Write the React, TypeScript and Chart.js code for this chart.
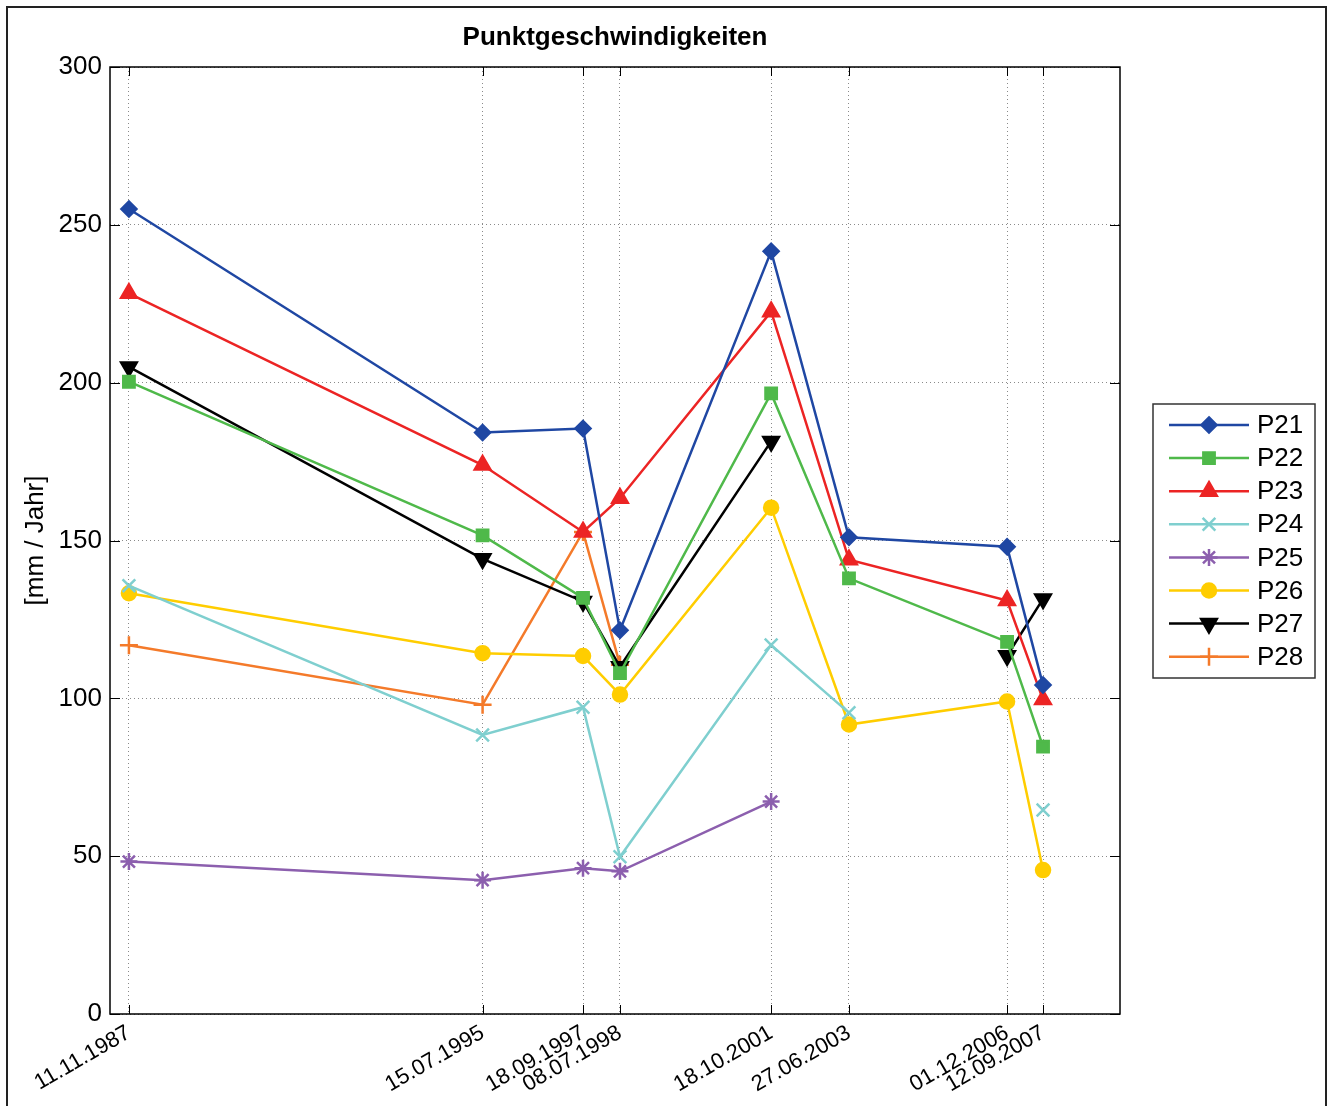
import React, { useEffect, useRef } from 'react';
import { Chart, registerables } from 'chart.js';

Chart.register(...registerables);

// ---- data ----
const dateLabels = ['11.11.1987', '15.07.1995', '18.09.1997', '08.07.1998', '18.10.2001', '27.06.2003', '01.12.2006', '12.09.2007'];
const seriesNames = ['P21', 'P22', 'P23', 'P24', 'P25', 'P26', 'P27', 'P28'];
const p21 = [255, 184.2, 185.5, 121.6, 241.6, 151, 148, 104.2];
const p22 = [200.3, 151.6, 131.8, 108, 196.6, 138, 117.9, 84.7];
const p23 = [228.3, 173.9, 152.7, 163.4, 222.5, 143.9, 131, 99.6];
const p24 = [135.7, 88.4, 97.2, 49.8, 116.9, 95.4, null, 64.6];
const p25 = [48.3, 42.4, 46.2, 45.2, 67.3, null, null, null];
const p26 = [133.3, 114.3, 113.4, 101.2, 160.4, 91.7, 99, 45.6];
const p27 = [205, 144.2, 130.7, 110, 181.4, null, 113.5, 131.5];
const p28 = [116.8, 98, 152.7, 110.6, null, null, null, null];
const yTicks = [0, 50, 100, 150, 200, 250, 300];

const seriesValues = [p21, p22, p23, p24, p25, p26, p27, p28];
const seriesColors = ['#1f47a3', '#4fb94a', '#ec2424', '#7fcfcf', '#8c5fae', '#ffcd00', '#000000', '#f47a2a'];
const seriesMarkers = ['rectRot', 'rect', 'triangle', 'crossRot', 'star', 'circle', 'triangle', 'cross'];
const seriesMarkerRot = [0, 0, 0, 0, 0, 0, 180, 0];
const seriesMarkerSize = [7.5, 8, 9, 9, 8.5, 7, 9, 9];

const toDay = (s: string) => {
  const [d, m, y] = s.split('.').map(Number);
  return Date.UTC(y, m - 1, d) / 86400000;
};
const xVals = dateLabels.map(toDay);

const FONT = "'Liberation Sans', Arial, Helvetica, sans-serif";

function drawMarker(ctx: CanvasRenderingContext2D, style: string, x: number, y: number, r: number, color: string, rot: number) {
  ctx.save();
  ctx.fillStyle = color;
  ctx.strokeStyle = color;
  ctx.lineWidth = 2.5;
  ctx.beginPath();
  if (style === 'rectRot') {
    ctx.moveTo(x, y - r); ctx.lineTo(x + r, y); ctx.lineTo(x, y + r); ctx.lineTo(x - r, y); ctx.closePath();
    ctx.fill(); ctx.stroke();
  } else if (style === 'rect') {
    const s = Math.SQRT1_2 * r;
    ctx.rect(x - s, y - s, 2 * s, 2 * s); ctx.fill(); ctx.stroke();
  } else if (style === 'triangle') {
    let rad = (rot * Math.PI) / 180;
    ctx.moveTo(x + Math.sin(rad) * r, y - Math.cos(rad) * r);
    rad += (2 * Math.PI) / 3;
    ctx.lineTo(x + Math.sin(rad) * r, y - Math.cos(rad) * r);
    rad += (2 * Math.PI) / 3;
    ctx.lineTo(x + Math.sin(rad) * r, y - Math.cos(rad) * r);
    ctx.closePath(); ctx.fill(); ctx.stroke();
  } else if (style === 'circle') {
    ctx.arc(x, y, r, 0, Math.PI * 2); ctx.fill(); ctx.stroke();
  } else if (style === 'cross') {
    ctx.moveTo(x - r, y); ctx.lineTo(x + r, y); ctx.moveTo(x, y - r); ctx.lineTo(x, y + r); ctx.stroke();
  } else if (style === 'crossRot') {
    const s = Math.SQRT1_2 * r;
    ctx.moveTo(x - s, y - s); ctx.lineTo(x + s, y + s); ctx.moveTo(x - s, y + s); ctx.lineTo(x + s, y - s); ctx.stroke();
  } else if (style === 'star') {
    const s = Math.SQRT1_2 * r;
    ctx.moveTo(x - r, y); ctx.lineTo(x + r, y); ctx.moveTo(x, y - r); ctx.lineTo(x, y + r);
    ctx.moveTo(x - s, y - s); ctx.lineTo(x + s, y + s); ctx.moveTo(x - s, y + s); ctx.lineTo(x + s, y - s); ctx.stroke();
  }
  ctx.restore();
}

const decorPlugin = {
  id: 'decor',
  afterDraw(chart: any) {
    const { ctx, chartArea: a, scales } = chart;
    ctx.save();
    // figure frame
    ctx.strokeStyle = '#222';
    ctx.lineWidth = 2;
    ctx.strokeRect(7, 7, 1319, 1120);
    // axes box
    ctx.strokeStyle = '#000';
    ctx.lineWidth = 1.5;
    ctx.strokeRect(a.left, a.top, a.right - a.left, a.bottom - a.top);
    // inward ticks
    ctx.lineWidth = 1;
    ctx.beginPath();
    xVals.forEach((v) => {
      const px = Math.round(scales.x.getPixelForValue(v)) + 0.5;
      ctx.moveTo(px, a.bottom); ctx.lineTo(px, a.bottom - 9);
      ctx.moveTo(px, a.top); ctx.lineTo(px, a.top + 9);
    });
    yTicks.forEach((v) => {
      const py = Math.round(scales.y.getPixelForValue(v)) + 0.5;
      ctx.moveTo(a.left, py); ctx.lineTo(a.left + 10, py);
      ctx.moveTo(a.right, py); ctx.lineTo(a.right - 10, py);
    });
    ctx.stroke();
    // title
    ctx.fillStyle = '#000';
    ctx.font = `bold 26px ${FONT}`;
    ctx.textAlign = 'center';
    ctx.textBaseline = 'middle';
    ctx.fillText('Punktgeschwindigkeiten', (a.left + a.right) / 2, 38);
    // y-axis title
    ctx.save();
    ctx.translate(36, (a.top + a.bottom) / 2);
    ctx.rotate(-Math.PI / 2);
    ctx.font = `26px ${FONT}`;
    ctx.fillText('[mm / Jahr]', 0, 0);
    ctx.restore();
    // legend
    const lx = 1153, ly = 404, lw = 162, lh = 274;
    ctx.fillStyle = '#fff';
    ctx.fillRect(lx, ly, lw, lh);
    ctx.strokeStyle = '#333';
    ctx.lineWidth = 1.5;
    ctx.strokeRect(lx, ly, lw, lh);
    seriesNames.forEach((name, i) => {
      const yy = 425 + i * 33.1;
      ctx.strokeStyle = seriesColors[i];
      ctx.lineWidth = 2.5;
      ctx.beginPath();
      ctx.moveTo(1169, yy); ctx.lineTo(1249, yy);
      ctx.stroke();
      drawMarker(ctx, seriesMarkers[i], 1209, yy, seriesMarkerSize[i], seriesColors[i], seriesMarkerRot[i]);
      ctx.fillStyle = '#000';
      ctx.font = `26px ${FONT}`;
      ctx.textAlign = 'left';
      ctx.textBaseline = 'middle';
      ctx.fillText(name, 1257, yy + 1);
    });
    ctx.restore();
  },
};

export default function App() {
  const ref = useRef<HTMLCanvasElement | null>(null);
  useEffect(() => {
    if (!ref.current) return;
    const datasets = seriesNames.map((name, i) => ({
      label: name,
      data: xVals.map((x, j) => ({ x, y: seriesValues[i][j] })),
      borderColor: seriesColors[i],
      backgroundColor: seriesColors[i],
      borderWidth: 2.5,
      pointStyle: seriesMarkers[i] as any,
      pointRotation: seriesMarkerRot[i],
      pointRadius: seriesMarkerSize[i],
      pointBorderWidth: 2.5,
      pointBackgroundColor: seriesColors[i],
      pointBorderColor: seriesColors[i],
      tension: 0,
      spanGaps: false,
    }));
    const chart = new Chart(ref.current, {
      type: 'line',
      data: { datasets },
      plugins: [decorPlugin],
      options: {
        animation: false,
        responsive: false,
        maintainAspectRatio: false,
        layout: { padding: { left: 0, top: 67, right: 210, bottom: 0 } },
        plugins: { legend: { display: false }, title: { display: false }, tooltip: { enabled: false } },
        scales: {
          x: {
            type: 'linear',
            min: xVals[0] - 150,
            max: xVals[xVals.length - 1] + 610,
            afterBuildTicks: (s: any) => {
              s.ticks = xVals.map((v) => ({ value: v }));
            },
            afterFit: (s: any) => {
              s.height = 92;
            },
            ticks: {
              autoSkip: false,
              minRotation: 30,
              maxRotation: 30,
              padding: 6,
              color: '#000',
              font: { family: FONT, size: 22 },
              callback: (_v: any, i: number) => dateLabels[i],
            },
            grid: { color: '#8a8a8a', lineWidth: 1, drawTicks: false },
            border: { display: false, dash: [1, 3] },
          },
          y: {
            min: 0,
            max: 300,
            afterBuildTicks: (s: any) => {
              s.ticks = yTicks.map((v) => ({ value: v }));
            },
            afterFit: (s: any) => {
              s.width = 110;
            },
            ticks: {
              padding: 8,
              color: '#000',
              font: { family: FONT, size: 26 },
            },
            grid: { color: '#8a8a8a', lineWidth: 1, drawTicks: false },
            border: { display: false, dash: [1, 3] },
          },
        },
      },
    });
    return () => chart.destroy();
  }, []);
  return (
    <div style={{ position: 'absolute', left: 0, top: 0, width: 1330, height: 1106, background: '#fff' }}>
      <canvas ref={ref} width={1330} height={1106} style={{ display: 'block' }} />
    </div>
  );
}
